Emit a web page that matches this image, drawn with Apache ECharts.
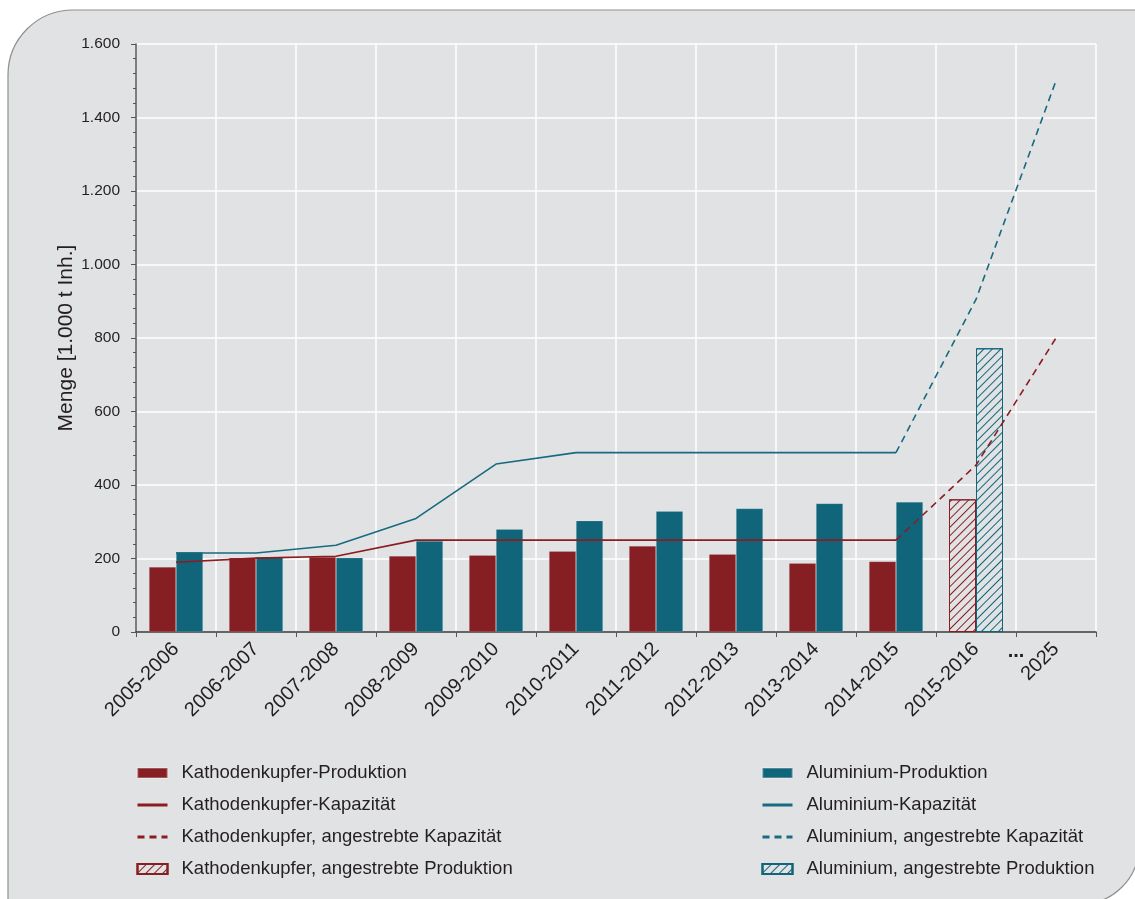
<!DOCTYPE html>
<html><head><meta charset="utf-8">
<script src="https://cdn.jsdelivr.net/npm/echarts@6/dist/echarts.min.js"></script>
<style>html,body{margin:0;padding:0;background:#fff}#c{width:1135px;height:899px}</style>
</head><body><div id="c"></div>
<script>
const categories = ['2005-2006','2006-2007','2007-2008','2008-2009','2009-2010','2010-2011','2011-2012','2012-2013','2013-2014','2014-2015','2015-2016','2025'];
const cuProduction       = [177, 202, 204, 207, 209, 220, 234, 212, 187, 192, '-', '-'];
const alProduction       = [218, 204, 202, 248, 280, 303, 329, 336, 350, 354, '-', '-'];
const cuCapacity         = [190, 201, 206, 250, 250, 250, 250, 250, 250, 250, '-', '-'];
const alCapacity         = [215, 215, 236, 309, 457, 488, 488, 488, 488, 488, '-', '-'];
const cuTargetCapacity   = ['-', '-', '-', '-', '-', '-', '-', '-', '-', 250, 454, 800];
const alTargetCapacity   = ['-', '-', '-', '-', '-', '-', '-', '-', '-', 488, 905, 1500];
const cuTargetProduction = ['-', '-', '-', '-', '-', '-', '-', '-', '-', '-', 361, '-'];
const alTargetProduction = ['-', '-', '-', '-', '-', '-', '-', '-', '-', '-', 772, '-'];
const yMin = 0, yMax = 1600, yStep = 200;
const gapLabel = '...';

const RED = '#861f23', TEAL = '#10657b', RED_L = '#8b1c21', TEAL_L = '#176a80';
const PANEL = '#e1e2e4', TXT = '#231f20';
const fmt = v => String(v).replace(/\B(?=(\d{3})+(?!\d))/g, '.');
const hatch = c => ({symbol: 'rect', symbolSize: 1, color: c, dashArrayX: [1, 0], dashArrayY: [1, 5], rotation: -Math.PI / 4});

const chart = echarts.init(document.getElementById('c'), null, {renderer: 'canvas'});
const legendText = {fontSize: 18.5, color: TXT, fontFamily: 'Liberation Sans, Arial, sans-serif', padding: [0, 0, 0, 9], lineHeight: 20};
const barItem = name => ({name: name, icon: 'rect'});
const lineItem = name => ({name: name, itemStyle: {opacity: 0}});
chart.setOption({
  backgroundColor: '#ffffff',
  animation: false,
  textStyle: {fontFamily: 'Liberation Sans, Arial, sans-serif'},
  graphic: [{
    type: 'rect', z: -10, silent: true,
    shape: {x: 8, y: 10, width: 1131, height: 894, r: [65, 0, 58, 0]},
    style: {fill: PANEL, stroke: '#8f8f8f', lineWidth: 1.2}
  }],
  grid: {left: 136, right: 39, top: 44, bottom: 267, containLabel: false},
  legend: [{
    left: 131, top: 758, orient: 'vertical', itemWidth: 30, itemHeight: 10, itemGap: 12,
    textStyle: legendText, lineStyle: {width: 3}, selectedMode: false,
    data: [barItem('Kathodenkupfer-Produktion'), lineItem('Kathodenkupfer-Kapazität'), lineItem('Kathodenkupfer, angestrebte Kapazität'), barItem('Kathodenkupfer, angestrebte Produktion')]
  }, {
    left: 756, top: 758, orient: 'vertical', itemWidth: 30, itemHeight: 10, itemGap: 12,
    textStyle: legendText, lineStyle: {width: 3}, selectedMode: false,
    data: [barItem('Aluminium-Produktion'), lineItem('Aluminium-Kapazität'), lineItem('Aluminium, angestrebte Kapazität'), barItem('Aluminium, angestrebte Produktion')]
  }],
  xAxis: {
    type: 'category', data: categories, boundaryGap: true,
    axisLine: {lineStyle: {color: '#333', width: 1.5}},
    axisTick: {show: true, interval: 0, length: 5, lineStyle: {color: '#555'}},
    axisLabel: {interval: 0, rotate: 45, fontSize: 20, color: TXT, margin: 14},
    splitLine: {show: true, interval: 0, lineStyle: {color: '#ffffff', width: 1.5}}
  },
  yAxis: {
    type: 'value', min: yMin, max: yMax, interval: yStep,
    name: 'Menge [1.000 t Inh.]', nameLocation: 'middle', nameGap: 59, nameMoveOverlap: false,
    nameTextStyle: {fontSize: 21, color: TXT},
    axisLine: {show: true, lineStyle: {color: '#555', width: 1.5}},
    axisTick: {show: true, length: 5, lineStyle: {color: '#555'}},
    minorTick: {show: true, splitNumber: 5, length: 3, lineStyle: {color: '#555'}},
    axisLabel: {fontSize: 15.5, color: TXT, margin: 16, formatter: fmt},
    splitLine: {lineStyle: {color: '#ffffff', width: 1.5}}
  },
  series: [
    {name: 'Kathodenkupfer-Produktion', type: 'bar', stack: 'cu', data: cuProduction, barWidth: 27, barGap: '0%',
     itemStyle: {color: RED, borderColor: 'rgba(255,255,255,0.25)', borderWidth: 0.6}},
    {name: 'Kathodenkupfer, angestrebte Produktion', type: 'bar', stack: 'cu', data: cuTargetProduction, barWidth: 27, barGap: '0%',
     itemStyle: {color: PANEL, borderColor: RED, borderWidth: 1, decal: hatch(RED)}},
    {name: 'Aluminium-Produktion', type: 'bar', stack: 'al', data: alProduction, barWidth: 27, barGap: '0%',
     itemStyle: {color: TEAL, borderColor: 'rgba(255,255,255,0.25)', borderWidth: 0.6}},
    {name: 'Aluminium, angestrebte Produktion', type: 'bar', stack: 'al', data: alTargetProduction, barWidth: 27, barGap: '0%',
     itemStyle: {color: PANEL, borderColor: TEAL, borderWidth: 1, decal: hatch(TEAL)}},
    {name: 'Kathodenkupfer-Kapazität', type: 'line', data: cuCapacity, symbol: 'none', z: 5,
     itemStyle: {color: RED_L}, lineStyle: {color: RED_L, width: 1.6}},
    {name: 'Aluminium-Kapazität', type: 'line', data: alCapacity, symbol: 'none', z: 5,
     itemStyle: {color: TEAL_L}, lineStyle: {color: TEAL_L, width: 1.6}},
    {name: 'Kathodenkupfer, angestrebte Kapazität', type: 'line', data: cuTargetCapacity, symbol: 'none', z: 5,
     itemStyle: {color: RED_L}, lineStyle: {color: RED_L, width: 1.6, type: [7, 5]}},
    {name: 'Aluminium, angestrebte Kapazität', type: 'line', data: alTargetCapacity, symbol: 'none', z: 5,
     itemStyle: {color: TEAL_L}, lineStyle: {color: TEAL_L, width: 1.6, type: [7, 5]}}
  ]
});
const n = categories.length;
const pA = chart.convertToPixel({xAxisIndex: 0, yAxisIndex: 0}, [n - 2, 0]);
const pB = chart.convertToPixel({xAxisIndex: 0, yAxisIndex: 0}, [n - 1, 0]);
chart.setOption({graphic: [{}, {
  type: 'text', z: 10, silent: true,
  x: (pA[0] + pB[0]) / 2, y: pA[1] + 19,
  style: {text: gapLabel, fontSize: 20, fontWeight: 'bold', fill: TXT, align: 'center', verticalAlign: 'middle'}
}]});
</script></body></html>
